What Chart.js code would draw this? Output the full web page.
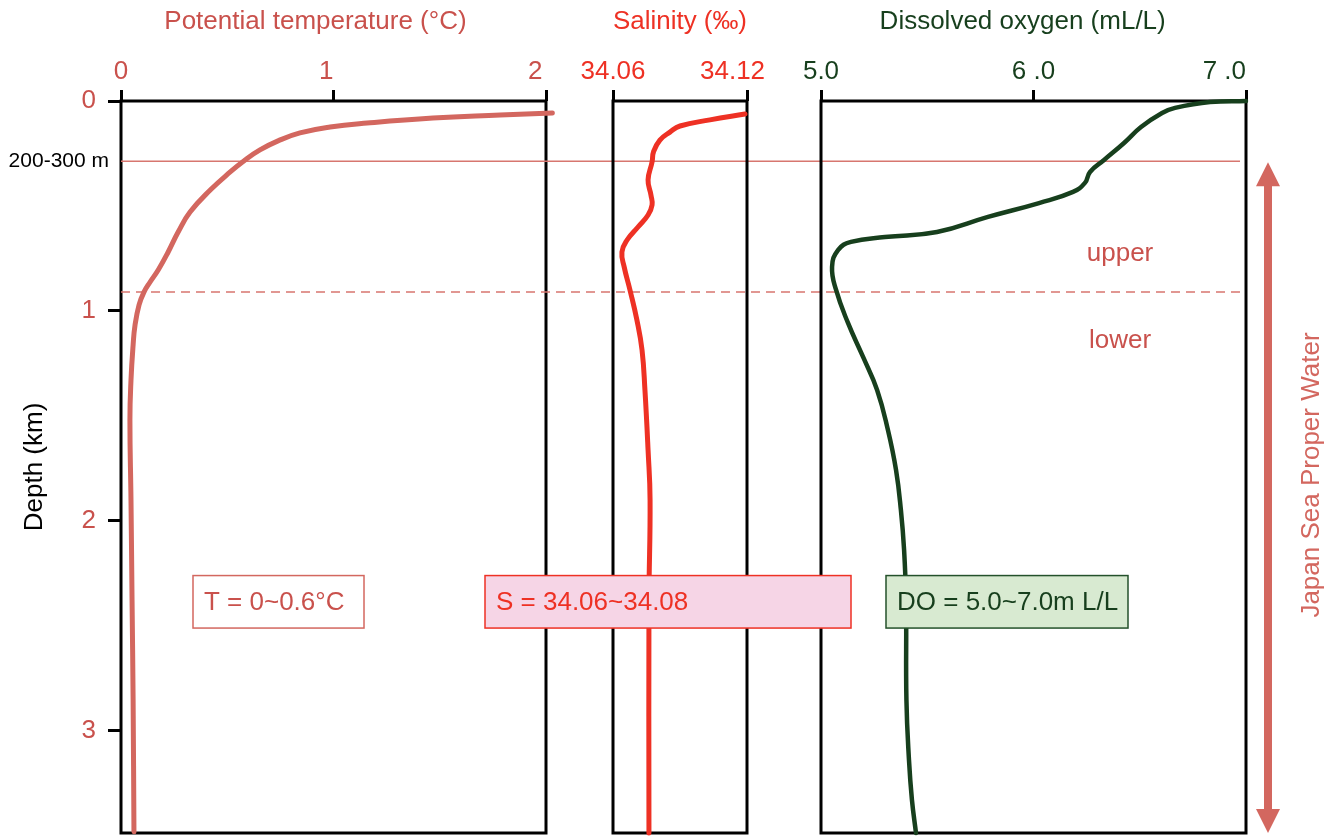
<!DOCTYPE html>
<html>
<head>
<meta charset="utf-8">
<script src="https://cdn.jsdelivr.net/npm/chart.js@4.4.1/dist/chart.umd.min.js"></script>
<style>
  body { margin: 0; background: #fff; }
  #wrap { position: relative; width: 1331px; height: 838px; }
  #wrap canvas { position: absolute; left: 0; top: 0; }
</style>
</head>
<body>
<div id="wrap">
  <canvas id="tempChart" width="1331" height="838"></canvas>
  <canvas id="salChart" width="1331" height="838"></canvas>
  <canvas id="doChart" width="1331" height="838"></canvas>
</div>
<script>
// profiles, depth in km
const tempDepth = [0.057, 0.067, 0.081, 0.105, 0.124, 0.152, 0.190, 0.233, 0.281, 0.338, 0.424, 0.529, 0.624,
  0.719, 0.805, 0.862, 0.910, 0.971, 1.067, 1.162, 1.329, 1.519, 1.900, 2.376, 2.852, 3.48];
const tempValues = [2.03, 1.784, 1.468, 1.158, 0.984, 0.842, 0.739, 0.654, 0.584, 0.514, 0.42, 0.325, 0.269,
  0.222, 0.175, 0.137, 0.108, 0.085, 0.066, 0.057, 0.047, 0.042, 0.047, 0.052, 0.057, 0.061];

const salDepth = [0.062, 0.090, 0.119, 0.148, 0.186, 0.240, 0.290, 0.376, 0.448, 0.495, 0.543, 0.600,
  0.662, 0.719, 0.790, 0.900, 1.043, 1.186, 1.376, 1.662, 1.900, 2.376, 3.486];
const salValues = [34.1191, 34.1034, 34.0900, 34.0855, 34.0810, 34.0782, 34.0775, 34.0757, 34.0770, 34.0775,
  34.0757, 34.0712, 34.0663, 34.0640, 34.0650, 34.0676, 34.0707, 34.0730, 34.0743, 34.0757, 34.0766, 34.0761, 34.0761];

const doDepth = [0.0, 0.005, 0.033, 0.057, 0.124, 0.200, 0.281, 0.338, 0.390, 0.433, 0.486, 0.552, 0.624,
  0.648, 0.671, 0.710, 0.790, 0.900, 1.057, 1.219, 1.376, 1.567, 1.757, 1.948, 2.138, 2.376, 2.852, 3.138, 3.329, 3.486];
const doValues = [7.0, 6.831, 6.666, 6.605, 6.506, 6.426, 6.332, 6.266, 6.242, 6.186, 6.026, 5.786, 5.546,
  5.301, 5.141, 5.080, 5.052, 5.071, 5.127, 5.198, 5.264, 5.315, 5.353, 5.376, 5.391, 5.400, 5.402, 5.414, 5.428, 5.447];

// axis ticks
const depthTicks = [0, 1, 2, 3];
const depthTickLabels = ['0', '1', '2', '3'];
const tempTicks = [0, 1, 2];
const tempTickLabels = ['0', '1', '2'];
const salTicks = [34.06, 34.12];
const salTickLabels = ['34.06', '34.12'];
const doTicks = [5, 6, 7];
const doTickLabels = ['5.0', '6 .0', '7 .0'];

// layer boundaries (km)
const thermoclineDepth = 0.287;
const upperLowerDepth = 0.91;

const FONT = '"Liberation Sans", Arial, Helvetica, sans-serif';
const TEMP_TEXT = '#c9514c';
const TEMP_LINE = '#d3675f';
const SAL_COLOR = '#ee3124';
const DO_COLOR = '#173f1d';

function toPoints(xs, ys) {
  return xs.map((v, i) => ({ x: v, y: ys[i] }));
}

// the original figure sets some labels a little left of their tick; trailing spaces nudge them
function nudge(text, n) {
  return text + ' '.repeat(n || 0);
}

// black box around each panel
const framePlugin = {
  id: 'frame',
  beforeDatasetsDraw(chart) {
    const a = chart.chartArea, ctx = chart.ctx;
    ctx.save();
    ctx.strokeStyle = '#000';
    ctx.lineWidth = 3;
    ctx.strokeRect(a.left, a.top, a.right - a.left, a.bottom - a.top);
    ctx.restore();
  }
};

function xScale(min, max, ticks, labels, shifts, color, title) {
  return {
    type: 'linear', position: 'top', min: min, max: max,
    afterBuildTicks: s => { s.ticks = ticks.map(v => ({ value: v })); },
    ticks: { color: color, font: { family: FONT, size: 26 }, padding: 3, maxRotation: 0,
      callback: (v, i) => nudge(labels[i], shifts[i]) },
    grid: { drawOnChartArea: false, drawTicks: true, tickLength: 11, color: '#000', lineWidth: 3 },
    border: { display: false },
    title: { display: true, text: title, color: color, font: { family: FONT, size: 26 }, padding: { top: 6 } },
    afterFit: s => { s.height = 101; }
  };
}

function yScale(show) {
  return {
    type: 'linear', reverse: true, min: 0, max: 3.486, display: show,
    afterBuildTicks: s => { s.ticks = depthTicks.map(v => ({ value: v })); },
    ticks: { color: TEMP_TEXT, font: { family: FONT, size: 26 }, padding: 12,
      callback: (v, i) => depthTickLabels[i] },
    grid: { drawOnChartArea: false, drawTicks: true, tickLength: 13, color: '#000', lineWidth: 3 },
    border: { display: false },
    title: { display: true, text: 'Depth (km)', color: '#000', font: { family: FONT, size: 26 }, padding: { top: 19 } },
    afterFit: s => {
      s.width = show ? 121 : 0;
      s.paddingTop = 0;
      s.paddingBottom = 0;
    }
  };
}

function profileChart(id, pad, dataset, x, showY, plugins) {
  return new Chart(document.getElementById(id), {
    type: 'line',
    data: { datasets: [dataset] },
    options: {
      responsive: false,
      animation: false,
      indexAxis: 'y',
      layout: { padding: pad },
      plugins: { legend: { display: false }, tooltip: { enabled: false } },
      scales: { x: x, y: yScale(showY) }
    },
    plugins: [framePlugin].concat(plugins)
  });
}

// horizontal boundaries across all panels + "200-300 m" label
const boundaryPlugin = {
  id: 'boundaries',
  beforeDatasetsDraw(chart) {
    const ctx = chart.ctx, y = chart.scales.y;
    const x0 = chart.chartArea.left, x1 = 1240;
    ctx.save();
    ctx.strokeStyle = '#d7766f';
    ctx.lineWidth = 1.5;
    let yy = y.getPixelForValue(thermoclineDepth);
    ctx.beginPath(); ctx.moveTo(x0, yy); ctx.lineTo(x1, yy); ctx.stroke();
    yy = y.getPixelForValue(upperLowerDepth);
    ctx.setLineDash([9, 6]);
    ctx.beginPath(); ctx.moveTo(x0, yy); ctx.lineTo(x1, yy); ctx.stroke();
    ctx.restore();
  },
  afterDraw(chart) {
    const ctx = chart.ctx, y = chart.scales.y;
    ctx.save();
    ctx.fillStyle = '#000';
    ctx.font = '21px ' + FONT;
    ctx.textAlign = 'right';
    ctx.textBaseline = 'middle';
    ctx.fillText('200-300 m', 109, y.getPixelForValue(thermoclineDepth));
    ctx.restore();
  }
};

// range boxes, layer names and the water-mass arrow (topmost canvas)
const notePlugin = {
  id: 'notes',
  afterDraw(chart) {
    const ctx = chart.ctx, y = chart.scales.y;
    const top = y.getPixelForValue(2.26), bottom = y.getPixelForValue(2.51);
    const boxes = [
      { x: 193, w: 171, fill: '#ffffff', stroke: TEMP_LINE, color: TEMP_TEXT, text: 'T = 0~0.6°C' },
      { x: 485, w: 366, fill: '#f6d5e6', stroke: SAL_COLOR, color: SAL_COLOR, text: 'S = 34.06~34.08' },
      { x: 886, w: 242, fill: '#d8ead1', stroke: '#24512b', color: DO_COLOR, text: 'DO = 5.0~7.0m L/L' }
    ];
    ctx.save();
    ctx.font = '26px ' + FONT;
    ctx.textBaseline = 'middle';
    boxes.forEach(b => {
      ctx.fillStyle = b.fill;
      ctx.fillRect(b.x, top, b.w, bottom - top);
      ctx.strokeStyle = b.stroke;
      ctx.lineWidth = 1.5;
      ctx.strokeRect(b.x, top, b.w, bottom - top);
      ctx.fillStyle = b.color;
      ctx.textAlign = 'left';
      ctx.fillText(b.text, b.x + 11, (top + bottom) / 2 + 1);
    });

    ctx.fillStyle = TEMP_TEXT;
    ctx.textAlign = 'center';
    ctx.fillText('upper', 1120, y.getPixelForValue(0.73));
    ctx.fillText('lower', 1120, y.getPixelForValue(1.14));

    // double-headed arrow
    const ax = 1268;
    const yTop = y.getPixelForValue(thermoclineDepth) + 1, yBot = y.bottom;
    ctx.fillStyle = TEMP_LINE;
    ctx.fillRect(ax - 4, yTop + 20, 8, yBot - yTop - 40);
    ctx.beginPath();
    ctx.moveTo(ax, yTop); ctx.lineTo(ax + 12, yTop + 24); ctx.lineTo(ax - 12, yTop + 24); ctx.closePath();
    ctx.fill();
    ctx.beginPath();
    ctx.moveTo(ax, yBot); ctx.lineTo(ax + 12, yBot - 24); ctx.lineTo(ax - 12, yBot - 24); ctx.closePath();
    ctx.fill();

    ctx.translate(1312, 475);
    ctx.rotate(-Math.PI / 2);
    ctx.fillText('Japan Sea Proper Water', 0, 0);
    ctx.restore();
  }
};

profileChart('tempChart', { left: 0, right: 1331 - 546, top: 0, bottom: 5 }, {
  data: toPoints(tempValues, tempDepth),
  borderColor: TEMP_LINE, borderWidth: 5, pointRadius: 0, clip: false,
  tension: 0.45, borderCapStyle: 'round'
}, xScale(0, 2, tempTicks, tempTickLabels, [0, 2, 3], TEMP_TEXT, nudge('Potential temperature (°C)', 5)), true, [boundaryPlugin]);

profileChart('salChart', { left: 613, right: 1331 - 747, top: 0, bottom: 5 }, {
  data: toPoints(salValues, salDepth),
  borderColor: SAL_COLOR, borderWidth: 5, pointRadius: 0, clip: false,
  tension: 0.45, borderCapStyle: 'round'
}, xScale(34.06, 34.12, salTicks, salTickLabels, [0, 4], SAL_COLOR, 'Salinity (‰)'), false, []);

profileChart('doChart', { left: 821, right: 1331 - 1246, top: 0, bottom: 5 }, {
  data: toPoints(doValues, doDepth),
  borderColor: DO_COLOR, borderWidth: 4.5, pointRadius: 0, clip: false,
  tension: 0.45, borderCapStyle: 'round'
}, xScale(5, 7, doTicks, doTickLabels, [0, 0, 6], DO_COLOR, nudge('Dissolved oxygen (mL/L)', 3)), false, [notePlugin]);
</script>
</body>
</html>
